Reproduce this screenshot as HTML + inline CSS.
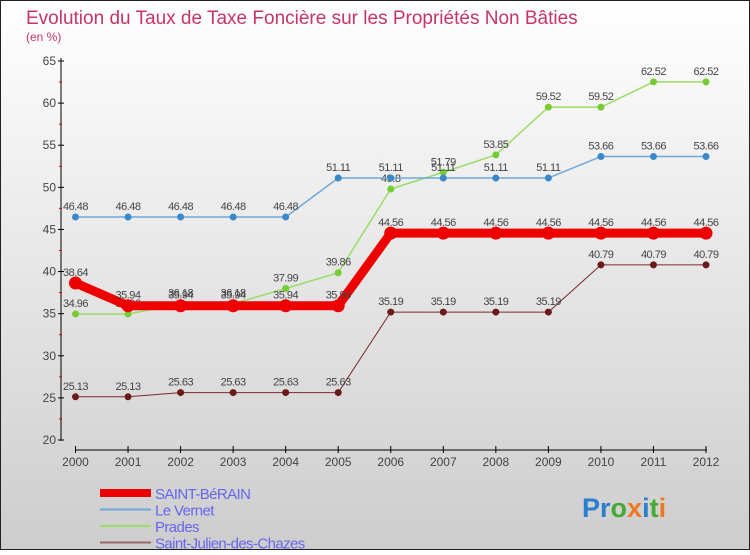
<!DOCTYPE html>
<html><head><meta charset="utf-8"><style>
body{margin:0;width:750px;height:550px;overflow:hidden;font-family:"Liberation Sans",sans-serif}
</style></head><body>
<svg width="750" height="550" xmlns="http://www.w3.org/2000/svg" id="svg">
<defs><linearGradient id="bg" x1="0" y1="0" x2="0" y2="1"><stop offset="0" stop-color="#ffffff"/><stop offset="1" stop-color="#cdcdcd"/></linearGradient></defs>
<rect x="0.5" y="0.5" width="749" height="549" fill="url(#bg)" stroke="#222" stroke-width="1"/>
<text x="26" y="24" font-size="19" fill="#c8336a">Evolution du Taux de Taxe Foncière sur les Propriétés Non Bâties</text>
<text x="26" y="41" font-size="12" fill="#c8336a">(en %)</text>
<g id="axes"></g><g id="series"></g><g id="legend"></g>
<text x="582" y="517" font-size="27" font-weight="bold" fill="#2a7fd0">P<tspan fill="#2a7fd0">r</tspan><tspan fill="#44aa33">o</tspan><tspan fill="#ee7722">x</tspan><tspan fill="#2a7fd0">i</tspan><tspan fill="#44aa33">t</tspan><tspan fill="#ee7722">i</tspan></text>
</svg>
<script>
const years=[2000,2001,2002,2003,2004,2005,2006,2007,2008,2009,2010,2011,2012];
const yTicks=[20,25,30,35,40,45,50,55,60,65];
const saintBerain=[38.64,35.94,35.94,35.94,35.94,35.94,44.56,44.56,44.56,44.56,44.56,44.56,44.56];
const leVernet=[46.48,46.48,46.48,46.48,46.48,51.11,51.11,51.11,51.11,51.11,53.66,53.66,53.66];
const prades=[34.96,34.96,36.18,36.18,37.99,39.86,49.8,51.79,53.85,59.52,59.52,62.52,62.52];
const saintJulien=[25.13,25.13,25.63,25.63,25.63,25.63,35.19,35.19,35.19,35.19,40.79,40.79,40.79];
const NS="http://www.w3.org/2000/svg";
const xS=i=>75.5+i*(706-75.5)/12;
const yS=v=>440-(v-20)*(440-61)/45;
function mk(t,a,p){const e=document.createElementNS(NS,t);for(const k in a)e.setAttribute(k,a[k]);p.appendChild(e);return e;}
const ax=document.getElementById('axes');
let l=mk('line',{x1:61,y1:58,x2:61,y2:441,stroke:'#000'},ax);


yTicks.forEach((v,i)=>{
 const t=mk('line',{x1:58,x2:64,y1:yS(v),y2:yS(v),stroke:'#000'},ax);
 
 
 if(i<yTicks.length-1){const m=mk('line',{x1:59,x2:62,y1:yS(v+2.5),y2:yS(v+2.5),stroke:'#d00'},ax);
 
 }
 const tx=mk('text',{x:56,y:yS(v)+4,'text-anchor':'end','font-size':12,fill:'#444'},ax);tx.textContent=v;
 
 
});
l=mk('line',{x1:75,y1:450,x2:707,y2:450,stroke:'#000'},ax);


years.forEach((y,i)=>{
 const t=mk('line',{x1:xS(i),x2:xS(i),y1:446,y2:453,stroke:'#000'},ax);
 
 
 const tx=mk('text',{x:xS(i),y:466,'text-anchor':'middle','font-size':12,fill:'#444'},ax);tx.textContent=y;
 
 
});
const sg=document.getElementById('series');
const series=[
 {n:'saint-julien',d:saintJulien,c:'#7a2a2a',w:1,r:3.5,f:'#6b1a1a'},
 {n:'prades',d:prades,c:'#99dd66',w:1.5,r:3.5,f:'#77cc33'},
 {n:'le-vernet',d:leVernet,c:'#6fa8d8',w:1.5,r:3.5,f:'#3a88cc'},
 {n:'saint-berain',d:saintBerain,c:'#ee0000',w:9,r:6.5,f:'#ee0000'}];
series.forEach(s=>{
 const p=mk('polyline',{points:s.d.map((v,i)=>xS(i)+','+yS(v)).join(' '),fill:'none',stroke:s.c,'stroke-width':s.w,'stroke-linejoin':'round'},sg);
 
 
 s.d.forEach((v,i)=>{
  const c=mk('circle',{cx:xS(i),cy:yS(v),r:s.r,fill:s.f},sg);
  
  
  const t=mk('text',{x:xS(i),y:yS(v)-7,'text-anchor':'middle','font-size':11,fill:'#444','letter-spacing':'-0.5'},sg);t.textContent=v;
  
  
 });
});
const lg=document.getElementById('legend');
const leg=[['SAINT-BéRAIN','#ee0000',8],['Le Vernet','#6fa8d8',2],['Prades','#99dd66',2],['Saint-Julien-des-Chazes','#9a6666',2]];
leg.forEach((e,i)=>{
 const y=493+i*16.5;
 const ln=mk('line',{x1:100,x2:151,y1:y,y2:y,stroke:e[1],'stroke-width':e[2]},lg);
 
 
 const t=mk('text',{x:155,y:y+6,'font-size':15,fill:'#6666ee','letter-spacing':'-0.6'},lg);t.textContent=e[0];
 
 
});
</script>
</body></html>
